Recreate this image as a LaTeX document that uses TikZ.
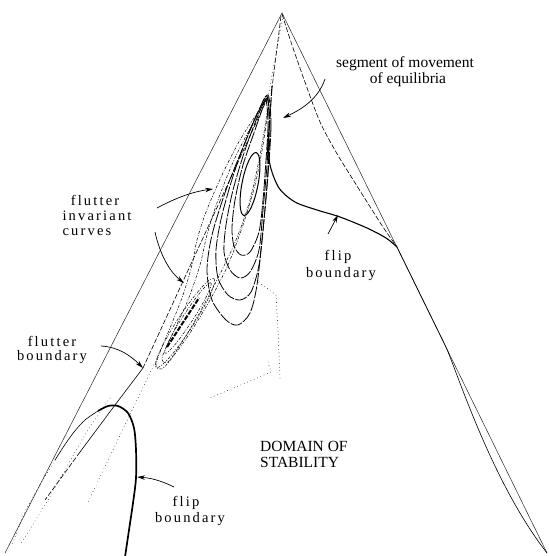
\documentclass[tikz,border=0pt]{standalone}
\usepackage{fontspec}
\setmainfont{Liberation Serif}
\newfontfamily\spacedfont[LetterSpace=15]{Liberation Serif}
\usetikzlibrary{arrows.meta}
\begin{document}
\begin{tikzpicture}[x=1pt,y=-1pt,
  lab/.style={font=\fontsize{15.5}{16}\selectfont, inner sep=0pt},
  slab/.style={font=\spacedfont\fontsize{14.5}{16}\selectfont, inner sep=0pt},
  pointer/.style={line width=0.7pt, -{Stealth[length=8pt,width=4.5pt]}},
  frame/.style={line width=0.5pt, black!85},
  flipline/.style={line width=1.1pt},
  thickflip/.style={line width=1.7pt},
  looploop/.style={line width=0.8pt, dash pattern=on 12pt off 1.5pt},
  dashloop/.style={line width=0.5pt, dash pattern=on 3pt off 1.5pt on 1pt off 1.5pt},
  dashline/.style={line width=0.6pt, dash pattern=on 5pt off 2pt},
  dotsline/.style={line width=0.7pt, line cap=round, dash pattern=on 0.1pt off 3.5pt},
]
\useasboundingbox (0,0) rectangle (548,556);
\fill[white] (0,0) rectangle (548,556);

% outer triangle
\coordinate (apex) at (282,13);
\coordinate (bl) at (5,553);
\coordinate (br) at (547,553);
\draw[frame] (bl) -- (apex) -- (br);

% dash curve from apex to the flip junction
\coordinate (junc) at (397,247);
\draw[dashline] plot[smooth] coordinates {(282,14) (292,45) (306,85) (320,122) (336,152) (352,178) (381,224) (397,247)};

% upper flip boundary
\draw[flipline] plot[smooth] coordinates {(268,140) (270,165) (279,188) (295,202) (317,210) (340,217) (367,228) (386,238) (397,247)};
% continuation near right side
\coordinate (bowtop) at (445,345);
\draw[line width=0.6pt] (junc) -- (bowtop) .. controls (455,365) and (490,480) .. (br);

% dense central line near the top
\draw[dashline] (281,16) -- (272,88);
\draw[dotsline] (283,16) -- (268,97);
\draw[line width=1.1pt, dash pattern=on 10pt off 1.5pt] (272,86) -- (267,160);

% upper invariant loops (solid)
\draw[line width=1pt, rotate around={79:(250,184)}] (250,184) ellipse [x radius=32, y radius=8];
\draw[looploop] plot[smooth cycle] coordinates {(266,100) (268,125) (266,160) (263,200) (259,232) (250,252) (241,255) (234,246) (232,228) (235,200) (243,165) (255,130) (262,110)};
\draw[looploop] plot[smooth cycle] coordinates {(267,98) (269,125) (267,165) (263,210) (259,250) (250,272) (240,278) (230,270) (224,252) (226,225) (233,190) (245,150) (257,118)};
\draw[looploop] plot[smooth cycle] coordinates {(267,96) (270,125) (268,170) (264,220) (259,265) (251,292) (240,300) (228,295) (218,278) (216,250) (222,215) (235,170) (250,130) (260,108)};
\draw[looploop] plot[smooth cycle] coordinates {(268,95) (271,125) (268,175) (263,230) (257,285) (250,313) (238,325) (226,320) (212,300) (207,270) (212,235) (226,190) (244,145) (258,112)};

% left dashed elongated loops
\draw[dashloop] plot[smooth cycle] coordinates {(268,97) (258,112) (240,140) (222,175) (206,212) (197,240) (192,265) (183,295) (170,328) (160,352) (156,366) (162,369) (172,358) (190,333) (210,300) (228,265) (243,225) (255,185) (263,145) (268,110)};
\draw[dashloop] plot[smooth cycle] coordinates {(268,98) (252,125) (234,160) (218,200) (207,235) (200,265) (188,300) (172,335) (162,358) (168,362) (182,342) (200,312) (218,278) (236,240) (250,200) (261,150) (267,112)};

% lower cluster
\draw[dashloop, rotate around={57:(185,323)}] (185,323) ellipse [x radius=53, y radius=8];
\draw[dashloop, rotate around={57:(188,318)}] (188,318) ellipse [x radius=42, y radius=5];
\draw[line width=2pt, dash pattern=on 5pt off 1.5pt] (167,347) -- (199,298);

% flutter boundary line
\coordinate (fvert) at (143,368);
\draw[dashline] (268,97) -- (fvert);
\draw[line width=0.6pt] (fvert) -- (115,405) -- (80,452);
\draw[dashline] (80,452) -- (45,500);
\draw[dotsline] (160,352) -- (88,502);
\draw[dotsline] plot[smooth] coordinates {(110,398) (85,435) (65,470) (45,505) (20,545)};

% left flip boundary
\draw[thickflip] plot[smooth] coordinates {(125,557) (129,530) (133,503) (136,478) (136,450) (134,428) (128,413) (118,406) (108,406) (98,411)};
\draw[line width=0.6pt] plot[smooth] coordinates {(98,411) (85,420) (74,432) (64,446) (55,460)};
\draw[dotsline] plot[smooth] coordinates {(55,460) (40,485) (25,512) (12,545)};

% dotted V shape
\draw[dotsline] plot coordinates {(253,278) (276,295) (278,330) (280,378)};
\draw[dotsline] plot coordinates {(268,362) (271,372) (210,398)};

% labels
\node[lab] (seg1) at (405,64) {segment of movement};
\node[lab] (seg2) at (408,80) {of equilibria};
\node[slab] (fi1) at (95,200) {flutter};
\node[slab] (fi2) at (97,216) {invariant};
\node[slab] (fi3) at (87,232) {curves};
\node[slab] (fb1) at (52,341) {flutter};
\node[slab] (fb2) at (52,357) {boundary};
\node[slab] (uf1) at (338,257) {flip};
\node[slab] (uf2) at (341,274) {boundary};
\node[lab, anchor=west] (dom1) at (260,446) {DOMAIN OF};
\node[lab, anchor=west] (dom2) at (260,462) {STABILITY};
\node[slab] (lf1) at (186,503) {flip};
\node[slab] (lf2) at (190,519) {boundary};

% pointers
\coordinate (segT) at (325,79);
\coordinate (segH) at (283,118);
\draw[pointer] (segT) .. controls (318,100) and (300,110) .. (segH);
\coordinate (fiT1) at (157,208);
\coordinate (fiH1) at (213,189);
\draw[pointer] (fiT1) .. controls (172,200) and (190,192) .. (fiH1);
\coordinate (fiT2) at (155,232);
\coordinate (fiH2) at (184,283);
\draw[pointer] (fiT2) .. controls (160,255) and (170,272) .. (fiH2);
\coordinate (fbT) at (101,346);
\draw[pointer] (fbT) .. controls (118,347) and (130,355) .. (fvert);
\coordinate (ufT) at (328,234);
\coordinate (ufH) at (338,215);
\draw[pointer] (ufT) -- (ufH);
\coordinate (lfT) at (174,487);
\coordinate (lfH) at (137,477);
\draw[pointer] (lfT) .. controls (160,480) and (150,478) .. (lfH);
\end{tikzpicture}
\end{document}
